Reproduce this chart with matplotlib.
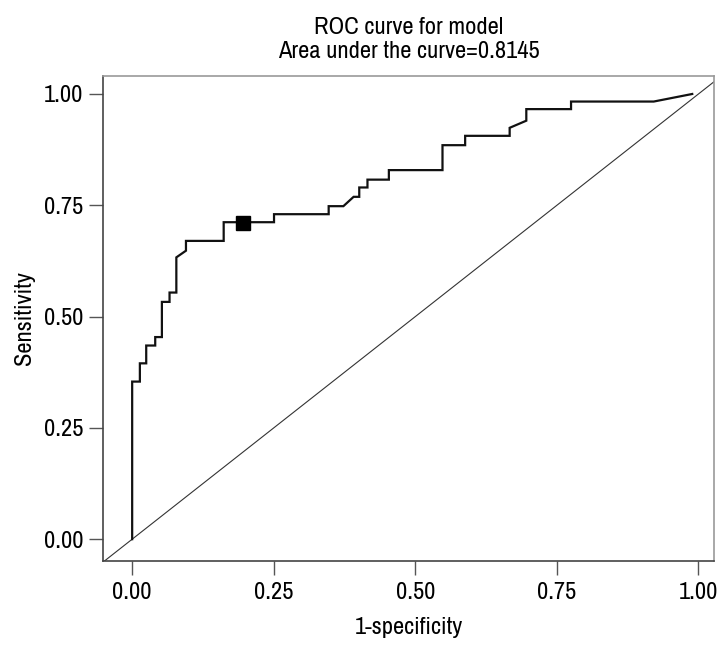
import matplotlib
matplotlib.use('Agg')
import matplotlib.pyplot as plt
from matplotlib import font_manager

# ROC curve vertices
fpr = [0.0, 0.0, 0.0136, 0.0136, 0.0248, 0.0248, 0.0407, 0.0407, 0.0525, 0.0525,
       0.066, 0.066, 0.078, 0.078, 0.095, 0.095, 0.1616, 0.1616, 0.2505, 0.2505,
       0.347, 0.347, 0.373, 0.391, 0.401, 0.401, 0.4155, 0.4155, 0.4533, 0.4533,
       0.548, 0.548, 0.588, 0.588, 0.6666, 0.6666, 0.696, 0.696, 0.775, 0.775,
       0.921, 0.989]
tpr = [0.0, 0.354, 0.354, 0.395, 0.395, 0.435, 0.435, 0.454, 0.454, 0.533,
       0.533, 0.554, 0.554, 0.633, 0.648, 0.670, 0.670, 0.712, 0.712, 0.730,
       0.730, 0.748, 0.748, 0.769, 0.769, 0.790, 0.790, 0.8076, 0.8076, 0.829,
       0.829, 0.885, 0.885, 0.906, 0.906, 0.924, 0.940, 0.966, 0.966, 0.983,
       0.983, 1.0]

# optimal cut-off point
cut_x = [0.196]
cut_y = [0.711]

ticks = [0.0, 0.25, 0.5, 0.75, 1.0]
tick_labels = ['0.00', '0.25', '0.50', '0.75', '1.00']

# look for a narrow sans face, the reference uses a condensed font
narrow = None
for f in font_manager.fontManager.ttflist:
    if f.style != 'normal' or f.weight not in (400, 'normal', 'regular'):
        continue
    low = (f.name + ' ' + f.fname).lower()
    if 'mono' in low or 'serif' in f.name.lower():
        continue
    if 'narrow' in low or 'condensed' in low:
        if narrow is None or 'dejavu' in narrow.name.lower():
            narrow = f
if narrow is not None:
    fp = font_manager.FontProperties(fname=narrow.fname)
else:
    fp = font_manager.FontProperties(family='DejaVu Sans')


def font(size):
    p = fp.copy()
    p.set_size(size)
    return p


FS = 17.6

fig = plt.figure(figsize=(7.28, 6.5), dpi=100)
ax = fig.add_axes([0.1411, 0.1369, 0.8401, 0.7466])

ax.axline((0, 0), (1, 1), color='#333333', linewidth=0.8)
ax.plot(fpr, tpr, color='#111111', linewidth=1.6, solid_joinstyle='miter')
ax.plot(cut_x, cut_y, 's', color='black', markersize=9.5)

ax.set_xlim(-0.052, 1.028)
ax.set_ylim(-0.049, 1.041)
ax.set_xticks(ticks)
ax.set_xticklabels(tick_labels, fontproperties=font(FS))
ax.set_yticks(ticks)
ax.set_yticklabels(tick_labels, fontproperties=font(FS))
ax.tick_params(axis='both', length=10, width=1, color='#555555')
ax.tick_params(axis='x', pad=5)
ax.tick_params(axis='y', pad=4)

for side in ['left', 'bottom']:
    ax.spines[side].set_color('#444444')
for side in ['top', 'right']:
    ax.spines[side].set_color('#999999')
for s in ax.spines.values():
    s.set_linewidth(1.2)

ax.set_title('ROC curve for model\nArea under the curve=0.8145', fontproperties=font(FS),
             pad=13, linespacing=1.15)
ax.set_xlabel('1-specificity', fontproperties=font(FS), labelpad=10)
ax.set_ylabel('Sensitivity', fontproperties=font(FS), labelpad=6)

fig.savefig('out.png', dpi=100)
